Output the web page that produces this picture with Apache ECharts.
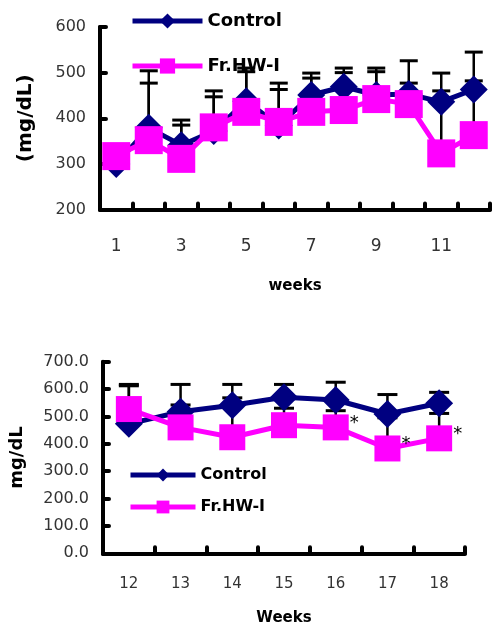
<!DOCTYPE html>
<html><head><meta charset="utf-8">
<script src="https://cdn.jsdelivr.net/npm/echarts@6/dist/echarts.min.js"></script>
<style>html,body{margin:0;padding:0;background:#fff}#c{width:492px;height:628px}</style>
</head><body><div id="c"></div>
<script>
// ---- data ----
const seriesNames = ['Control', 'Fr.HW-I'];
const weeksTop = ['1','2','3','4','5','6','7','8','9','10','11','12'];
const controlTop      = [300, 379, 341, 372, 437, 384, 451, 469, 451, 453, 436, 463];
const controlTopUpper = [318, 504, 396, 460, 510, 477, 499, 510, 510, 526, 499, 545];
const frTop           = [317, 352, 311, 380, 414, 392, 414, 418, 442, 431, 323, 363];
const frTopUpper      = [330, 477, 385, 447, 502, 463, 488, 500, 502, 477, 460, 482];

const weeksBottom = ['12','13','14','15','16','17','18'];
const controlBottom      = [473, 517, 541, 570, 560, 509, 548];
const controlBottomUpper = [617, 617, 617, 617, 625, 580, 588];
const frBottom           = [527, 460, 424, 468, 460, 383, 420];
const frBottomUpper      = [612, 542, 568, 530, 521, 495, 511];
const sigBottom          = ['', '', '', '', '*', '*', '*'];

const topYTicks = {min: 200, max: 600, interval: 100};
const bottomYTicks = {min: 0, max: 700, interval: 100};

// ---- styles ----
const NAVY = '#000080', MAG = '#ff00ff';
const FONT = 'DejaVu Sans';

function errSeries(idx, values, uppers, capW) {
  return {
    type: 'custom', xAxisIndex: idx, yAxisIndex: idx, silent: true, z: 2,
    encode: {x: 0, y: [1, 2]},
    data: values.map((v, i) => [i, v, uppers[i]]),
    renderItem: (params, api) => {
      const b = api.coord([api.value(0), api.value(1)]);
      const t = api.coord([api.value(0), api.value(2)]);
      return {type: 'group', children: [
        {type: 'line', shape: {x1: b[0], y1: b[1], x2: t[0], y2: t[1]}, style: {stroke: '#000', lineWidth: 2.5}},
        {type: 'line', shape: {x1: t[0] - capW, y1: t[1], x2: t[0] + capW, y2: t[1]}, style: {stroke: '#000', lineWidth: 3}}
      ]};
    }
  };
}

function xAxisCfg(idx, cats, fs, margin, labelInterval, nameText, nameGap) {
  return {
    type: 'category', gridIndex: idx, data: cats, boundaryGap: true,
    axisLine: {lineStyle: {color: '#000', width: 4}},
    axisTick: {show: true, inside: true, length: 6, interval: 0, lineStyle: {color: '#000', width: 4, cap: 'round'}},
    axisLabel: {interval: labelInterval, margin: margin, fontFamily: FONT, fontSize: fs, color: '#333'},
    splitLine: {show: false},
    name: nameText, nameLocation: 'middle', nameGap: nameGap,
    nameTextStyle: {fontFamily: FONT, fontWeight: 'bold', fontSize: 15, color: '#000'}
  };
}

function yAxisCfg(idx, ticks, fmt, nameText, nameGap, nameFs) {
  return {
    type: 'value', gridIndex: idx, min: ticks.min, max: ticks.max, interval: ticks.interval,
    axisLine: {show: true, lineStyle: {color: '#000', width: 4}},
    axisTick: {show: true, inside: true, length: 6, lineStyle: {color: '#000', width: 4, cap: 'round'}},
    axisLabel: {margin: 14, fontFamily: FONT, fontSize: 16, color: '#333', formatter: fmt},
    splitLine: {show: false},
    name: nameText, nameLocation: 'middle', nameGap: nameGap,
    nameTextStyle: {fontFamily: FONT, fontWeight: 'bold', fontSize: nameFs, color: '#000'}
  };
}

function lineSeries(idx, name, data, symbol, size, color, z, extra) {
  return Object.assign({
    type: 'line', name: name, xAxisIndex: idx, yAxisIndex: idx, data: data,
    symbol: symbol, symbolSize: size, showAllSymbol: true, z: z,
    itemStyle: {color: color}, lineStyle: {color: color, width: 5}
  }, extra || {});
}

const chart = echarts.init(document.getElementById('c'), null, {renderer: 'canvas'});
chart.setOption({
  animation: false,
  backgroundColor: '#fff',
  grid: [
    {left: 100, right: 2, top: 27, bottom: 418.5, containLabel: false},
    {left: 100, right: 27, top: 361.7, bottom: 74.7, containLabel: false}
  ],
  xAxis: [
    xAxisCfg(0, weeksTop, 17, 29, 1, 'weeks', 69),
    xAxisCfg(1, weeksBottom, 15, 23, 0, 'Weeks', 57)
  ],
  yAxis: [
    yAxisCfg(0, topYTicks, v => String(v), '(mg/dL)', 64, 20),
    yAxisCfg(1, bottomYTicks, v => v.toFixed(1), 'mg/dL', 77, 18)
  ],
  legend: [
    {data: seriesNames, orient: 'vertical', left: 125, top: 7, itemWidth: 70, itemHeight: 19, itemGap: 27,
     selectedMode: false, lineStyle: {width: 5},
     textStyle: {fontFamily: FONT, fontWeight: 'bold', fontSize: 18, color: '#000'}},
    {data: seriesNames, orient: 'vertical', left: 123, top: 462, itemWidth: 65, itemHeight: 16, itemGap: 16,
     selectedMode: false, lineStyle: {width: 5},
     textStyle: {fontFamily: FONT, fontWeight: 'bold', fontSize: 16, color: '#000'}}
  ],
  series: [
    errSeries(0, controlTop, controlTopUpper, 9),
    errSeries(0, frTop, frTopUpper, 9),
    errSeries(1, controlBottom, controlBottomUpper, 10),
    errSeries(1, frBottom, frBottomUpper, 10),
    lineSeries(0, seriesNames[0], controlTop, 'diamond', 28, NAVY, 3),
    lineSeries(0, seriesNames[1], frTop, 'rect', 28, MAG, 4),
    lineSeries(1, seriesNames[0], controlBottom, 'diamond', 28, NAVY, 3),
    lineSeries(1, seriesNames[1], frBottom, 'rect', 26, MAG, 4, {
      label: {show: true, position: 'right', distance: 1, offset: [0, -4],
              formatter: p => sigBottom[p.dataIndex], fontFamily: FONT, fontSize: 18, color: '#000'}
    })
  ]
});
</script>
</body></html>
